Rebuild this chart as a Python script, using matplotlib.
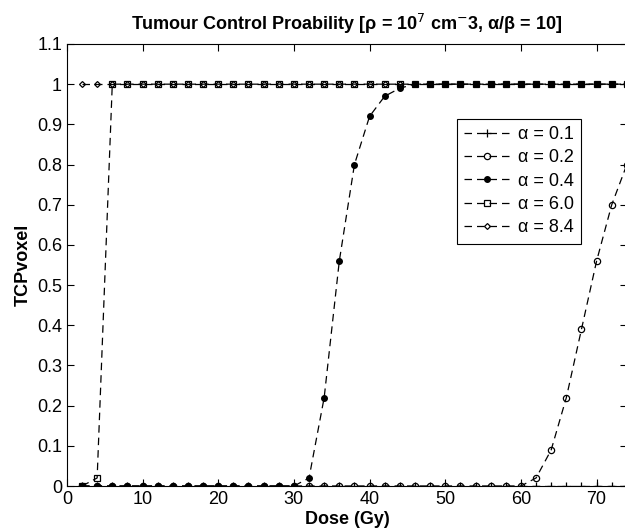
import matplotlib
matplotlib.use('Agg')
from matplotlib import pyplot as plt

# dose points (Gy), 2 Gy fractions
dose = [2, 4, 6, 8, 10, 12, 14, 16, 18, 20, 22, 24, 26, 28, 30, 32, 34, 36, 38,
        40, 42, 44, 46, 48, 50, 52, 54, 56, 58, 60, 62, 64, 66, 68, 70, 72, 74]

# TCP per voxel for each alpha
tcp_a01 = [0, 0, 0, 0, 0, 0, 0, 0, 0, 0, 0, 0, 0, 0, 0, 0, 0, 0, 0,
           0, 0, 0, 0, 0, 0, 0, 0, 0, 0, 0, 0, 0, 0, 0, 0, 0, 0]
tcp_a02 = [0, 0, 0, 0, 0, 0, 0, 0, 0, 0, 0, 0, 0, 0, 0, 0, 0, 0, 0,
           0, 0, 0, 0, 0, 0, 0, 0, 0, 0, 0, 0.02, 0.09, 0.22, 0.39, 0.56, 0.70, 0.80]
tcp_a04 = [0, 0, 0, 0, 0, 0, 0, 0, 0, 0, 0, 0, 0, 0, 0, 0.02, 0.22, 0.56, 0.80,
           0.92, 0.97, 0.99, 1, 1, 1, 1, 1, 1, 1, 1, 1, 1, 1, 1, 1, 1, 1]
tcp_a60 = [0, 0.02, 1, 1, 1, 1, 1, 1, 1, 1, 1, 1, 1, 1, 1, 1, 1, 1, 1,
           1, 1, 1, 1, 1, 1, 1, 1, 1, 1, 1, 1, 1, 1, 1, 1, 1, 1]
tcp_a84 = [1, 1, 1, 1, 1, 1, 1, 1, 1, 1, 1, 1, 1, 1, 1, 1, 1, 1, 1,
           1, 1, 1, 1, 1, 1, 1, 1, 1, 1, 1, 1, 1, 1, 1, 1, 1, 1]

labels = ['α = 0.1', 'α = 0.2', 'α = 0.4', 'α = 6.0', 'α = 8.4']
xticks = [0, 10, 20, 30, 40, 50, 60, 70]
yticks = [0, 0.1, 0.2, 0.3, 0.4, 0.5, 0.6, 0.7, 0.8, 0.9, 1, 1.1]
ytick_labels = ['0', '0.1', '0.2', '0.3', '0.4', '0.5', '0.6', '0.7', '0.8', '0.9', '1', '1.1']

plt.rcParams['font.family'] = ['Liberation Sans', 'DejaVu Sans']

fig = plt.figure(figsize=(6.25, 5.3), dpi=100)
ax = fig.add_axes([0.107, 0.083, 0.896, 0.834])

dash = (0, (6, 4))
ax.plot(dose, tcp_a01, color='black', ls=dash, lw=0.9, marker='+', ms=6, mew=0.9, label=labels[0])
ax.plot(dose, tcp_a02, color='black', ls=dash, lw=0.9, marker='o', ms=4.5, mfc='none', mew=0.9, label=labels[1])
ax.plot(dose, tcp_a04, color='black', ls=dash, lw=0.9, marker='o', ms=4, label=labels[2])
ax.plot(dose, tcp_a60, color='black', ls=dash, lw=0.9, marker='s', ms=4.5, mfc='none', mew=0.9, label=labels[3])
ax.plot(dose, tcp_a84, color='black', ls=dash, lw=0.9, marker='D', ms=3, mfc='none', mew=0.9, label=labels[4])

ax.set_xlim(0, 74)
ax.set_ylim(0, 1.1)
ax.set_xticks(xticks)
ax.set_yticks(yticks)
ax.set_yticklabels(ytick_labels)
ax.tick_params(direction='in', top=True, right=True, length=5, width=0.8, labelsize=13)
for s in ax.spines.values():
    s.set_linewidth(0.8)

ax.set_xlabel('Dose (Gy)', fontsize=13, fontweight='bold', labelpad=2)
ax.set_ylabel('TCPvoxel', fontsize=13, fontweight='bold', labelpad=4)
ax.set_title('Tumour Control Proability [ρ = 10$^7$ cm$^{-}$3, α/β = 10]',
             fontsize=13, fontweight='bold', pad=10)

leg = ax.legend(loc='upper left', bbox_to_anchor=(0.68, 0.851), fontsize=13,
                fancybox=False, framealpha=1, edgecolor='black', handlelength=2.6,
                borderpad=0.4, labelspacing=0.35, handletextpad=0.4)
leg.get_frame().set_linewidth(0.8)

fig.savefig('out.png', dpi=100)
